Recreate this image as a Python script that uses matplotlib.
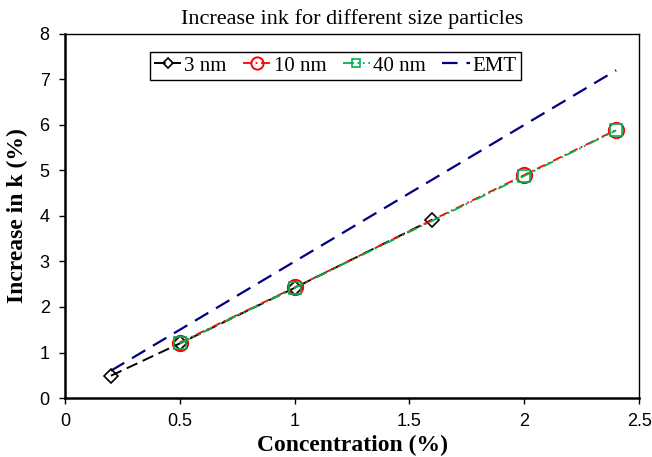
import matplotlib
matplotlib.use('Agg')
import matplotlib.pyplot as plt

# data
x_3nm = [0.2, 0.5, 1.0, 1.6]
y_3nm = [0.49, 1.20, 2.42, 3.92]
x_10nm = [0.5, 1.0, 2.0, 2.4]
y_10nm = [1.22, 2.43, 4.90, 5.89]
x_40nm = [0.5, 1.0, 2.0, 2.4]
y_40nm = [1.20, 2.42, 4.88, 5.88]
x_emt = [0.2, 0.5, 1.0, 1.6, 2.0, 2.4]
y_emt = [0.6, 1.5, 3.0, 4.8, 6.0, 7.2]

serif = 'Liberation Serif'
sans = 'Liberation Sans'

fig = plt.figure(figsize=(6.52, 4.57), dpi=100)
ax = fig.add_axes([0.0997, 0.129, 0.8806, 0.797])

ax.plot(x_emt, y_emt, color='#000080', linestyle=(0, (7, 4)), linewidth=1.6, label='EMT', zorder=2)
ax.plot(x_3nm, y_3nm, color='black', linestyle=(0, (6, 3)), linewidth=1.4, marker='D',
        markersize=7, markerfacecolor='none', markeredgecolor='black', markeredgewidth=1.2, label='3 nm', zorder=3)
ax.plot(x_10nm, y_10nm, color='red', linestyle=(0, (5, 2, 1, 2)), linewidth=1.3, marker='o',
        markersize=11, markerfacecolor='none', markeredgecolor='red', markeredgewidth=1.4, label='10 nm', zorder=4)
ax.plot(x_40nm, y_40nm, color='#00b050', linestyle=(0, (6, 2, 1, 2, 1, 2)), linewidth=1.3, marker='s',
        markersize=8, markerfacecolor='none', markeredgecolor='#00b050', markeredgewidth=1.2, label='40 nm', zorder=5)

ax.set_xlim(0, 2.5)
ax.set_ylim(0, 8)
ax.set_xticks([0, 0.5, 1, 1.5, 2, 2.5])
ax.set_xticklabels(['0', '0.5', '1', '1.5', '2', '2.5'])
ax.set_yticks(range(0, 9))
ax.tick_params(direction='out', length=4, width=1, labelsize=13, pad=7)
for lab in ax.get_xticklabels() + ax.get_yticklabels():
    lab.set_family(sans)
for s in ax.spines.values():
    s.set_linewidth(1)
ax.spines['left'].set_linewidth(1.8)
ax.spines['bottom'].set_linewidth(1.8)

ax.set_title('Increase ink for different size particles', fontsize=16, family=serif, pad=7)
ax.set_xlabel('Concentration (%)', fontsize=17, family=serif, fontweight='bold', labelpad=3)
ax.set_ylabel('Increase in k (%)', fontsize=17, family=serif, fontweight='bold', labelpad=8)

h, l = ax.get_legend_handles_labels()
order = [1, 2, 3, 0]
leg = ax.legend([h[i] for i in order], [l[i] for i in order], loc='upper center', ncol=4,
                bbox_to_anchor=(0.471, 0.95), prop={'family': serif, 'size': 15},
                handlelength=1.3, handletextpad=0.15, columnspacing=0.8, borderpad=0.2,
                fancybox=False, edgecolor='black', framealpha=1, markerscale=0.8,
                borderaxespad=0)
leg.get_frame().set_linewidth(1)

fig.savefig('out.png', dpi=100)
